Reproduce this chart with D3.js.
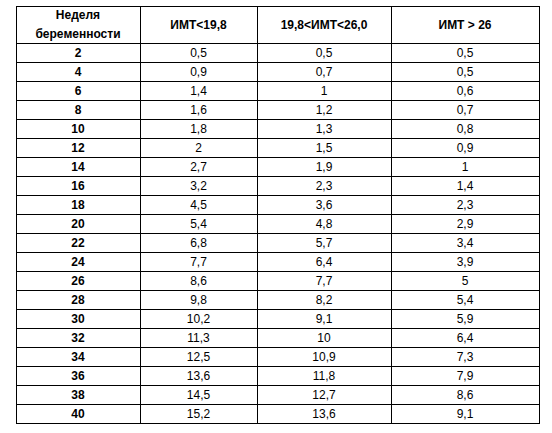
<!DOCTYPE html>
<html><head><meta charset="utf-8">
<script src="https://cdn.jsdelivr.net/npm/d3@7"></script>
<style>body{margin:0;background:#fff}</style>
</head><body><svg id="c" width="552" height="433"></svg>
<script>
// table data
const headers = ["Неделя\nбеременности", "ИМТ<19,8", "19,8<ИМТ<26,0", "ИМТ > 26"];
const weeks = [2,4,6,8,10,12,14,16,18,20,22,24,26,28,30,32,34,36,38,40];
const bmiLow = ["0,5","0,9","1,4","1,6","1,8","2","2,7","3,2","4,5","5,4","6,8","7,7","8,6","9,8","10,2","11,3","12,5","13,6","14,5","15,2"];
const bmiMid = ["0,5","0,7","1","1,2","1,3","1,5","1,9","2,3","3,6","4,8","5,7","6,4","7,7","8,2","9,1","10","10,9","11,8","12,7","13,6"];
const bmiHigh = ["0,5","0,5","0,6","0,7","0,8","0,9","1","1,4","2,3","2,9","3,4","3,9","5","5,4","5,9","6,4","7,3","7,9","8,6","9,1"];

const colEdges = [16, 140, 257, 391, 539];
const tableTop = 6, headH = 37;
const rowY = d3.scaleBand().domain(d3.range(weeks.length)).range([tableTop + headH, tableTop + headH + 19 * weeks.length]);

const svg = d3.select("#c");
const g = svg.append("g").attr("font-family", "Liberation Sans, Arial, sans-serif").attr("font-size", 12).attr("fill", "#000");

// header text
headers.forEach((h, i) => {
  const cx = (colEdges[i] + colEdges[i + 1]) / 2;
  const lines = h.split("\n");
  const t = g.append("text").attr("text-anchor", "middle").attr("font-weight", "bold");
  lines.forEach((l, j) => {
    t.append("tspan").attr("x", cx)
      .attr("y", tableTop + headH / 2 + 4 + (j - (lines.length - 1) / 2) * 19)
      .text(l);
  });
});

const cols = [weeks, bmiLow, bmiMid, bmiHigh];
cols.forEach((vals, ci) => {
  const cx = (colEdges[ci] + colEdges[ci + 1]) / 2;
  g.selectAll(null).data(vals).join("text")
    .attr("x", cx)
    .attr("y", (d, i) => rowY(i) + rowY.bandwidth() / 2 + 4)
    .attr("text-anchor", "middle")
    .attr("font-weight", ci === 0 ? "bold" : "normal")
    .text(d => d);
});

// grid lines
const bottom = rowY.range()[1];
const grid = svg.append("g").attr("stroke", "#000").attr("stroke-width", 1).attr("shape-rendering", "crispEdges");
colEdges.forEach(x => grid.append("line").attr("x1", x + 0.5).attr("x2", x + 0.5).attr("y1", tableTop).attr("y2", bottom));
[tableTop, ...d3.range(weeks.length).map(i => rowY(i)), bottom].forEach(y =>
  grid.append("line").attr("x1", colEdges[0]).attr("x2", colEdges[4] + 1).attr("y1", y + 0.5).attr("y2", y + 0.5));
</script></body></html>
